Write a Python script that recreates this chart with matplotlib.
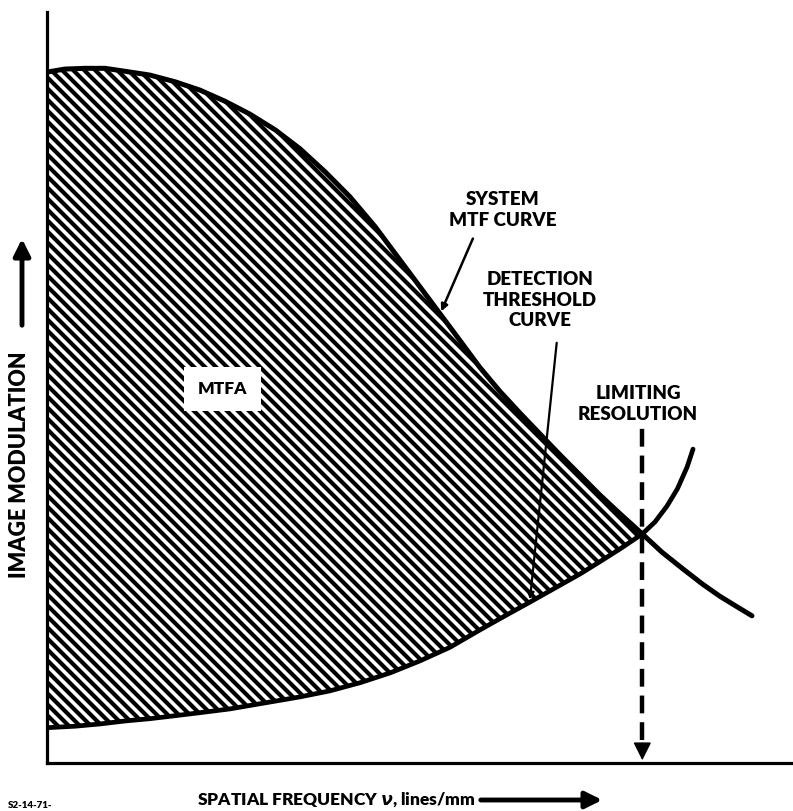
import numpy as np
import matplotlib
matplotlib.use('Agg')
import matplotlib.pyplot as plt
from matplotlib.patches import Polygon
from matplotlib.collections import LineCollection
from matplotlib.transforms import IdentityTransform

plt.rcParams['font.family'] = ['Lato', 'DejaVu Sans']
plt.rcParams['font.weight'] = 'heavy'

# system MTF curve (spatial frequency in arbitrary units, modulation 0..1)
nu_mtf = [0, 2.4, 5.1, 7.8, 10.5, 13.8, 17.2, 20.5, 23.9, 27.2, 30.6, 33.9, 37.3, 40.6,
          44.0, 47.3, 50.0, 52.7, 55.4, 58.0, 60.7, 63.4, 66.1, 68.8, 71.5, 74.1, 76.8,
          79.8, 82.4, 85.3, 87.9, 90.2, 92.5, 94.5]
mtf = [0.920, 0.924, 0.925, 0.925, 0.921, 0.916, 0.907, 0.896, 0.881, 0.864, 0.843,
       0.818, 0.787, 0.754, 0.714, 0.670, 0.634, 0.598, 0.562, 0.527, 0.495, 0.466,
       0.438, 0.410, 0.383, 0.357, 0.332, 0.305, 0.281, 0.258, 0.238, 0.222, 0.208, 0.196]

# detection threshold curve
nu_thr = [0, 3.8, 7.1, 10.5, 13.8, 17.2, 20.5, 24.5, 28.6, 33.9, 37.9, 42.0, 46.0, 50.0,
          54.0, 58.0, 61.4, 64.7, 68.1, 71.5, 74.1, 76.8, 79.8, 81.5, 83.1, 84.5, 85.8, 86.6]
thr = [0.047, 0.049, 0.052, 0.056, 0.059, 0.063, 0.067, 0.072, 0.079, 0.088, 0.096,
       0.107, 0.120, 0.136, 0.154, 0.177, 0.196, 0.214, 0.233, 0.252, 0.268, 0.285,
       0.305, 0.321, 0.342, 0.365, 0.394, 0.418]

nu_lim = 79.8   # limiting resolution
i_mtf = nu_mtf.index(nu_lim)
i_thr = nu_thr.index(nu_lim)

W, H = 793, 811
fig = plt.figure(figsize=(W / 100, H / 100), dpi=100)
ax = fig.add_axes([47 / W, (H - 763) / H, (W - 47) / W, (763 - 12) / H])
ax.set_xlim(0, 100)
ax.set_ylim(0, 1)
ax.set_xticks([])
ax.set_yticks([])
for s in ['top', 'right']:
    ax.spines[s].set_visible(False)
for s in ['left', 'bottom']:
    ax.spines[s].set_linewidth(2.3)


def fx(px):
    return px / W


def fy(py):
    return 1 - py / H


# MTFA region, hatched with thick diagonal lines
pts = list(zip(nu_mtf[:i_mtf + 1], mtf[:i_mtf + 1])) + list(zip(nu_thr[:i_thr + 1], thr[:i_thr + 1]))[::-1]
poly = Polygon(pts, closed=True, facecolor='none', edgecolor='none', transform=ax.transData)
ax.add_patch(poly)
segs = [[(c, H), (c + H, 0)] for c in np.arange(-H, W + 11, 11.0)]
lc = LineCollection(segs, colors='black', linewidths=3.0, transform=IdentityTransform())
lc.set_clip_path(poly)
ax.add_collection(lc, autolim=False)

ax.plot(nu_mtf, mtf, color='black', lw=3.6, solid_capstyle='round', solid_joinstyle='round')
ax.plot(nu_thr, thr, color='black', lw=3.4, solid_capstyle='round', solid_joinstyle='round')

# limiting resolution
ax.plot([nu_lim, nu_lim], [0.03, 0.446], color='black', lw=3.2, dashes=(4, 2))
ax.annotate('', xy=(nu_lim, 0), xytext=(nu_lim, 0.03),
            arrowprops=dict(arrowstyle='-|>', mutation_scale=28, color='black', lw=1))

# labels
fs = 13.5
ax.text(23.5, 0.498, 'MTFA', ha='center', va='center', fontsize=12.5,
        bbox=dict(facecolor='white', edgecolor='none', pad=10))
fig.text(fx(503), fy(210), 'SYSTEM\nMTF CURVE', ha='center', va='center', fontsize=fs,
         linespacing=1.25)
fig.text(fx(540), fy(300), 'DETECTION\nTHRESHOLD\nCURVE', ha='center', va='center',
         fontsize=fs, linespacing=1.25)
fig.text(fx(638), fy(404), 'LIMITING\nRESOLUTION', ha='center', va='center', fontsize=fs,
         linespacing=1.35)

ax.annotate('', xy=(nu_mtf[17], mtf[17]), xytext=(fx(474), fy(236)), textcoords='figure fraction',
            arrowprops=dict(arrowstyle='-|>', mutation_scale=10, color='black', lw=1.8))
ax.annotate('', xy=(nu_thr[17], thr[17]), xytext=(fx(557), fy(340)), textcoords='figure fraction',
            arrowprops=dict(arrowstyle='-|>', mutation_scale=10, color='black', lw=1.6))

fig.text(fx(20), fy(465), 'IMAGE MODULATION', rotation=90, ha='center', va='center',
         fontsize=15.5)
ax.annotate('', xy=(fx(22), fy(236)), xycoords='figure fraction', xytext=(fx(22), fy(328)),
            textcoords='figure fraction', annotation_clip=False,
            arrowprops=dict(arrowstyle='-|>', mutation_scale=25, color='black', lw=3.5))

fig.text(fx(197), fy(800), 'SPATIAL FREQUENCY $\\nu$, lines/mm', ha='left', va='center',
         fontsize=12.5)
ax.annotate('', xy=(fx(605), fy(800)), xycoords='figure fraction', xytext=(fx(478), fy(800)),
            textcoords='figure fraction', annotation_clip=False,
            arrowprops=dict(arrowstyle='-|>', mutation_scale=25, color='black', lw=3.5))

fig.text(fx(8), fy(806), 'S2-14-71-', ha='left', va='center', fontsize=7)

fig.savefig('out.png', dpi=100, facecolor='white')
